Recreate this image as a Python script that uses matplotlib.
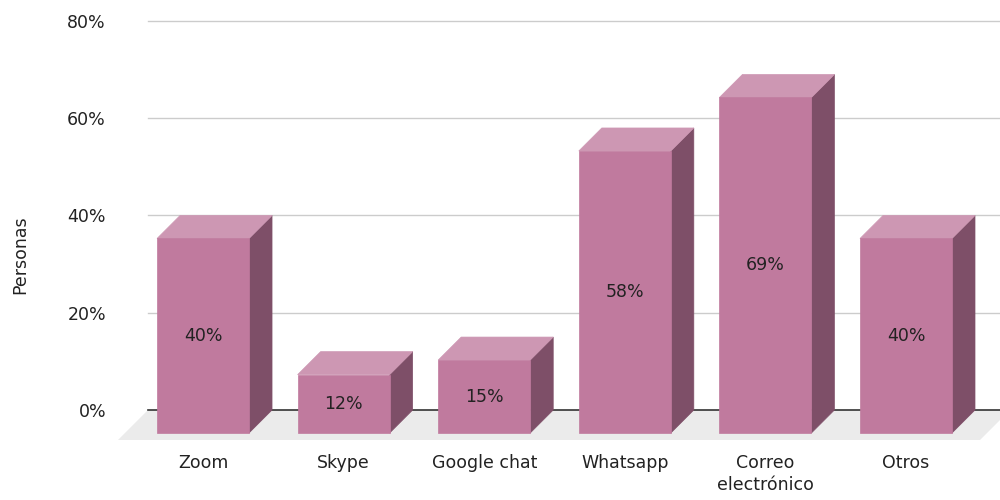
import matplotlib
matplotlib.use("Agg")
import matplotlib.pyplot as plt
from matplotlib.patches import Polygon

categories = ["Zoom", "Skype", "Google chat", "Whatsapp", "Correo\nelectrónico", "Otros"]
values = [40, 12, 15, 58, 69, 40]
value_labels = ["40%", "12%", "15%", "58%", "69%", "40%"]
yticks = [0, 20, 40, 60, 80]
ytick_labels = ["0%", "20%", "40%", "60%", "80%"]
ylabel = "Personas"

FRONT = "#C07A9E"
TOP = "#CD97B3"
SIDE = "#7E4F68"
FLOOR = "#EBEBEB"
TEXT = "#222222"
FS = 12.5

plt.rcParams['font.family'] = ['DejaVu Sans']

fig = plt.figure(figsize=(10, 5), dpi=100)
ax = fig.add_axes([0.148, 0.18, 0.852, 0.778])
xlim = (-0.555, 5.505)
ax.set_xlim(*xlim)
ax.set_ylim(0, 80)
for s in ax.spines.values():
    s.set_visible(False)

# pixel -> data conversion
ppx = 852 / (xlim[1] - xlim[0])
ppy = 389 / 80.0
DX = 23 / ppx
DY = 23 / ppy
W = 92 / ppx

# gridlines
for t in yticks[1:]:
    ax.axhline(t, color="#CCCCCC", lw=1, zorder=0.5, clip_on=False)

# floor
floor = Polygon([(xlim[0], 0), (xlim[1] + 10 / ppx, 0),
                 (xlim[1] - 20 / ppx, -30 / ppy), (xlim[0] - 30 / ppx, -30 / ppy)],
                closed=True, facecolor=FLOOR, edgecolor="none", clip_on=False, zorder=0.2)
ax.add_patch(floor)
ax.axhline(0, color="#333333", lw=1.2, zorder=1, clip_on=False)

for i, (v, lab) in enumerate(zip(values, value_labels)):
    xl, xr = i - W / 2, i + W / 2
    front = [(xl - DX, -DY), (xr - DX, -DY), (xr - DX, v - DY), (xl - DX, v - DY)]
    top = [(xl - DX, v - DY), (xr - DX, v - DY), (xr, v), (xl, v)]
    side = [(xr - DX, -DY), (xr, 0), (xr, v), (xr - DX, v - DY)]
    for pts, c in ((side, SIDE), (top, TOP), (front, FRONT)):
        ax.add_patch(Polygon(pts, closed=True, facecolor=c, edgecolor=c, lw=0.5,
                             clip_on=False, zorder=2))
    ax.text(i - DX, v / 2 - DY, lab, ha="center", va="center", fontsize=FS,
            color=TEXT, zorder=3)
    ax.annotate(categories[i], xy=(i, 0), xytext=(-23 * 0.72, -44 * 0.72),
                textcoords="offset points", ha="center", va="top",
                fontsize=FS, color=TEXT, linespacing=1.3)

ax.set_xticks([])
ax.set_yticks(yticks)
ax.set_yticklabels(ytick_labels, fontsize=FS, color=TEXT)
ax.tick_params(axis="y", length=0, pad=42 * 0.72)

fig.text(0.020, 1 - 255 / 500, ylabel, rotation=90, ha="center", va="center",
         fontsize=FS, color=TEXT)

fig.savefig("out.png", dpi=100)
